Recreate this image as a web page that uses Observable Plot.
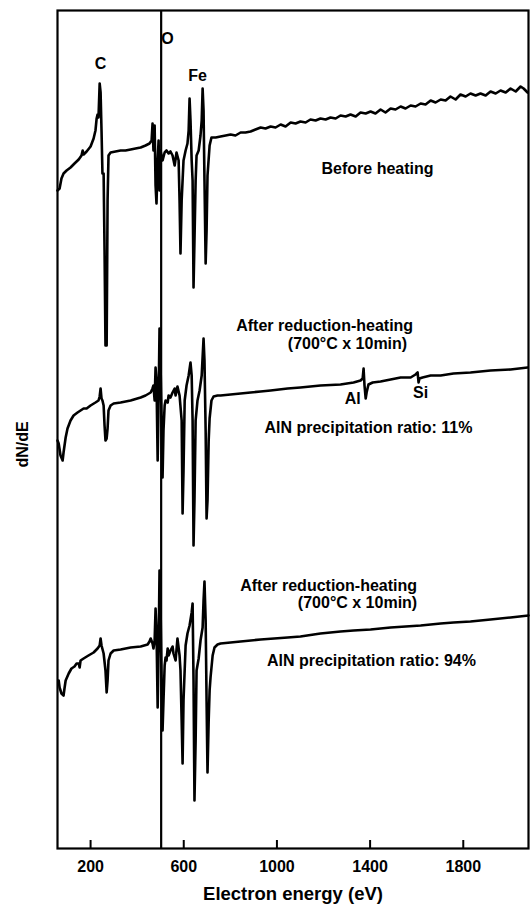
<!DOCTYPE html>
<html><head><meta charset="utf-8">
<script src="https://cdn.jsdelivr.net/npm/d3@7"></script>
<script src="https://cdn.jsdelivr.net/npm/@observablehq/plot@0.6"></script>
<style>html,body{margin:0;padding:0;background:#fff}</style>
</head><body><div id="chart"></div>
<script>
// Tick values of the electron energy axis (eV)
const energyTicks = [200, 600, 1000, 1400, 1800];
// Length of the inward tick marks, in signal units
const tickLength = 8;
// Oxygen marker line (eV)
const oxygenEnergy = 503;

// Spectrum 1: Before heating (energy eV, dN/dE a.u.)
const beforeEnergy = [58,67,75,84,97,114,131,149,161,166,170,183,200,213,221,226,230,234,239,243,247,251,256,260,264,269,273,277,286,307,329,350,372,393,415,436,453,462,466,470,475,479,483,488,492,496,500,509,518,526,535,543,552,561,569,578,582,586,591,599,608,616,621,625,629,634,638,642,646,651,655,664,672,677,681,685,689,694,698,702,711,719,737,758,780,801,822,844,865,887,908,930,951,973,994,1016,1037,1059,1080,1101,1123,1144,1166,1187,1209,1230,1252,1273,1295,1316,1338,1359,1381,1402,1423,1445,1466,1488,1509,1531,1552,1574,1595,1617,1638,1660,1681,1703,1724,1745,1767,1788,1810,1831,1853,1874,1896,1917,1939,1960,1982,2003,2025,2046,2059,2076];
const beforeSignal = [658,660,670,675,678,681,685,689,693,698,694,697,702,710,718,730,734,731,765,756,718,675,675,598,503,503,648,693,696,697,698,698,699,700,701,703,705,708,725,698,723,663,645,688,708,658,698,688,696,698,695,697,693,683,696,688,648,595,648,688,698,705,718,750,728,688,668,561,608,668,693,698,713,728,760,738,668,585,618,673,703,711,711,712,713,714,713,716,716,717,719,721,720,722,721,724,722,726,725,727,726,729,728,730,729,731,730,733,732,734,732,736,735,737,735,739,736,740,739,742,740,743,742,745,744,748,746,749,748,752,749,754,752,755,753,755,753,757,755,758,756,760,757,762,760,756];

// Spectrum 2: After reduction-heating, AlN 11%
const mid11Energy = [58,63,71,80,84,93,101,114,127,144,157,170,183,200,221,234,239,243,247,251,256,260,264,269,273,277,286,299,329,372,415,436,458,466,470,475,479,483,488,492,496,500,505,509,513,518,522,531,535,543,552,561,565,573,582,591,595,599,604,612,621,629,634,638,642,646,651,659,668,677,685,689,694,698,702,707,711,719,728,745,758,801,844,887,930,973,1046,1101,1187,1273,1329,1359,1368,1372,1376,1381,1385,1393,1411,1445,1488,1531,1574,1595,1604,1608,1612,1625,1660,1703,1758,1831,1917,2003,2076];
const mid11Signal = [408,405,393,388,396,411,420,428,433,436,438,440,440,443,446,448,452,460,450,448,443,423,408,410,420,438,443,445,446,448,451,453,456,460,463,448,481,468,388,448,520,488,428,371,418,443,448,446,453,451,456,460,453,462,453,428,335,378,448,463,473,486,473,428,303,348,428,448,458,473,510,488,418,330,348,408,430,448,452,453,453,454,455,456,457,458,460,461,463,464,466,468,470,480,463,450,456,464,466,467,469,471,471,474,476,466,470,471,473,473,475,476,478,479,481];

// Spectrum 3: After reduction-heating, AlN 94%
const low94Energy = [63,67,75,84,88,93,106,118,131,140,149,153,157,170,191,213,230,239,243,247,256,264,269,273,277,286,299,329,372,415,445,453,458,466,470,475,479,483,488,492,496,500,505,509,513,518,522,526,531,535,543,552,556,565,573,582,586,591,595,599,608,616,625,634,638,642,646,651,655,664,672,681,685,689,694,698,702,707,711,715,724,732,745,758,844,930,1046,1101,1187,1273,1329,1402,1488,1617,1703,1758,1831,1917,2003,2080];
const low94Signal = [168,161,155,153,160,168,175,180,182,185,185,181,188,190,193,196,200,203,210,203,195,178,156,168,188,195,198,199,201,202,204,207,210,205,200,208,240,218,141,198,278,248,168,118,148,183,191,188,200,193,198,202,195,188,210,193,178,128,85,148,203,215,223,236,245,168,48,108,178,190,208,221,248,267,228,148,76,128,158,171,193,201,204,205,207,209,211,212,215,217,218,219,221,223,225,226,227,229,231,233];

// Axis titles
const xTitle = "Electron energy (eV)";
const yTitle = "dN/dE";

// Annotations (energy eV, dN/dE a.u.)
const annText = ["C","O","Fe","Before heating","After reduction-heating","(700°C x 10min)","Al","Si","AlN precipitation ratio: 11%","After reduction-heating","(700°C x 10min)","AlN precipitation ratio: 94%"];
const annEnergy = [243,530,659,1432,1205,1303,1325,1617,1393,1222,1346,1406];
const annSignal = [785,810,773,680,523,505,450,456,421,263,246,188];

const rows = (E, S, name) => E.map((e, i) => ({energy: e, signal: S[i], spectrum: name}));
const data = [
  ...rows(beforeEnergy, beforeSignal, "before"),
  ...rows(mid11Energy, mid11Signal, "after11"),
  ...rows(low94Energy, low94Signal, "after94")
];
const annotations = annText.map((t, i) => ({text: t, x: annEnergy[i], y: annSignal[i]}));

const font = "'Liberation Sans', Arial, Helvetica, sans-serif";
const chart = Plot.plot({
  width: 531, height: 913,
  marginLeft: 57, marginRight: 3, marginTop: 10, marginBottom: 65,
  style: {fontFamily: font, background: "#fff", color: "#000"},
  x: {domain: [58, 2080], label: null},
  y: {domain: [0, 838], axis: null, label: null},
  marks: [
    Plot.frame({stroke: "#000", strokeWidth: 2.2}),
    Plot.ruleX([oxygenEnergy], {stroke: "#000", strokeWidth: 2.2}),
    Plot.ruleX(energyTicks, {x: d => d, y1: 0, y2: tickLength, stroke: "#000", strokeWidth: 2}),
    Plot.line(data, {x: "energy", y: "signal", z: "spectrum", stroke: "#000", strokeWidth: 2.6, strokeLinejoin: "round", strokeLinecap: "round"}),
    Plot.axisX(energyTicks, {tickSize: 0, tickPadding: 12, tickFormat: d => String(d), fontSize: 16, fontWeight: "bold", label: null}),
    Plot.text([xTitle], {frameAnchor: "bottom", dy: 51, fontSize: 18.5, fontWeight: "bold"}),
    Plot.text([yTitle], {frameAnchor: "left", dx: -35, dy: 38, rotate: -90, fontSize: 16, fontWeight: "bold"}),
    Plot.text(annotations, {x: "x", y: "y", text: "text", fontSize: 16, fontWeight: "bold"})
  ]
});
document.getElementById("chart").appendChild(chart);
</script>
</body></html>
